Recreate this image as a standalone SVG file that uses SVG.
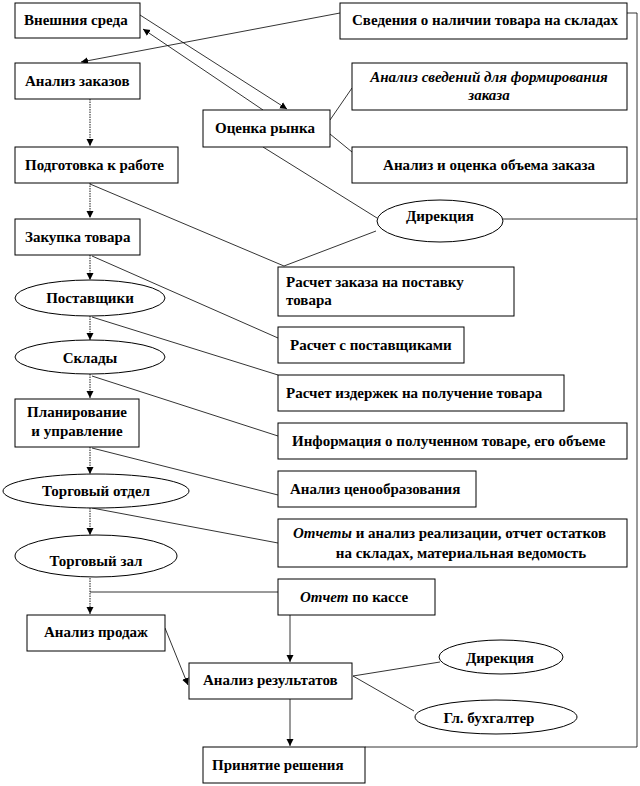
<svg xmlns="http://www.w3.org/2000/svg" width="640" height="786" viewBox="0 0 640 786" font-family="'Liberation Serif', 'Times New Roman', serif">
<defs>
<marker id="ah" markerWidth="8" markerHeight="8" refX="7" refY="4" orient="auto" markerUnits="userSpaceOnUse">
<path d="M0,0.5 L7,4 L0,7.5 Z" fill="#000"/>
</marker>
</defs>
<style>
.b{fill:#fff;stroke:#000;stroke-width:1}
.t{font-family:'Liberation Serif','Times New Roman',serif;font-weight:bold;font-size:15px;fill:#000}
.c{text-anchor:middle}
.i{font-style:italic}
.l{fill:none;stroke:#000;stroke-width:0.8}
.d{fill:none;stroke:#000;stroke-width:0.9;stroke-dasharray:1.5 1}
.a{marker-end:url(#ah)}
</style>
<rect width="640" height="786" fill="#fff"/>
<g id="connectors">
<line class="d a" x1="90" y1="99" x2="90" y2="146"/>
<line class="d a" x1="90" y1="183" x2="90" y2="218"/>
<line class="d a" x1="90" y1="255" x2="90" y2="280"/>
<line class="d a" x1="90" y1="316" x2="90" y2="340"/>
<line class="d a" x1="90" y1="374" x2="90" y2="398"/>
<line class="d a" x1="90" y1="447" x2="90" y2="474"/>
<line class="d a" x1="90" y1="508" x2="90" y2="535"/>
<line class="d a" x1="90" y1="578" x2="90" y2="614"/>
<line class="l" x1="90" y1="592" x2="278" y2="592"/>
<line class="l a" x1="290" y1="615" x2="290" y2="662"/>
<line class="l a" x1="290" y1="699" x2="290" y2="746"/>
<line class="l a" x1="165" y1="628" x2="188" y2="685"/>
<line class="l" x1="353" y1="676" x2="440" y2="662"/>
<line class="l" x1="353" y1="676" x2="414" y2="711"/>
<line class="l a" x1="140" y1="15" x2="287" y2="109"/>
<line class="l a" x1="263" y1="110" x2="143" y2="29"/>
<line class="l a" x1="340" y1="13" x2="81" y2="62"/>
<line class="l" x1="330" y1="120" x2="352" y2="88"/>
<line class="l" x1="330" y1="134" x2="352" y2="152"/>
<line class="l" x1="263" y1="147" x2="377" y2="218"/>
<line class="l" x1="90" y1="184" x2="284" y2="266"/>
<line class="l" x1="284" y1="266" x2="376" y2="231"/>
<line class="l" x1="92" y1="256" x2="278" y2="338"/>
<line class="l" x1="92" y1="317" x2="278" y2="375"/>
<line class="l" x1="92" y1="376" x2="278" y2="436"/>
<line class="l" x1="92" y1="448" x2="278" y2="495"/>
<line class="l" x1="92" y1="508" x2="278" y2="543"/>
<polyline class="l" points="627,13 637,13 637,747 365,747"/>
<line class="l" x1="503" y1="219" x2="637" y2="219"/>
</g>
<g id="vneshnyaya"><rect class="b" x="15" y="3" width="125" height="35"/><text class="t" x="24" y="25">Внешния среда</text></g>
<g id="analiz-zakazov"><rect class="b" x="15" y="63" width="125" height="36"/><text class="t" x="25" y="86">Анализ заказов</text></g>
<g id="podgotovka"><rect class="b" x="15" y="147" width="163" height="36"/><text class="t" x="25" y="170">Подготовка к работе</text></g>
<g id="ocenka"><rect class="b" x="203" y="110" width="127" height="37"/><text class="t" x="215" y="133">Оценка рынка</text></g>
<g id="svedeniya"><rect class="b" x="340" y="3" width="287" height="36"/><text class="t" x="352" y="25">Сведения о наличии товара на складах</text></g>
<g id="analiz-svedeniy"><rect class="b" x="352" y="63" width="275" height="47"/><text class="t c i" x="489" y="82">Анализ сведений для формирования</text><text class="t c i" x="489" y="100">заказа</text></g>
<g id="analiz-obema"><rect class="b" x="352" y="147" width="275" height="36"/><text class="t c" x="489" y="170">Анализ и оценка объема заказа</text></g>
<g id="direkciya1"><ellipse class="b" cx="440" cy="221" rx="63" ry="21"/><text class="t c" x="440" y="221">Дирекция</text></g>
<g id="zakupka"><rect class="b" x="15" y="219" width="125" height="36"/><text class="t" x="25" y="242">Закупка товара</text></g>
<g id="postavshiki"><ellipse class="b" cx="90" cy="298" rx="75" ry="18"/><text class="t c" x="90" y="303">Поставщики</text></g>
<g id="sklady"><ellipse class="b" cx="90" cy="357" rx="75" ry="17"/><text class="t c" x="90" y="363">Склады</text></g>
<g id="raschet-zakaza"><rect class="b" x="278" y="267" width="236" height="49"/><text class="t" x="286" y="287">Расчет заказа  на поставку</text><text class="t" x="286" y="305">товара</text></g>
<g id="raschet-postav"><rect class="b" x="278" y="327" width="186" height="36"/><text class="t" x="290" y="350">Расчет с поставщиками</text></g>
<g id="raschet-izderzhek"><rect class="b" x="278" y="375" width="286" height="36"/><text class="t" x="286" y="398">Расчет издержек на получение товара</text></g>
<g id="planirovanie"><rect class="b" x="15" y="399" width="124" height="48"/><text class="t c" x="77" y="417">Планирование</text><text class="t c" x="77" y="436">и управление</text></g>
<g id="informaciya"><rect class="b" x="278" y="423" width="349" height="36"/><text class="t" x="292" y="446">Информация  о полученном товаре, его объеме</text></g>
<g id="cenoobrazovanie"><rect class="b" x="278" y="471" width="198" height="36"/><text class="t" x="290" y="494">Анализ ценообразования</text></g>
<g id="torg-otdel"><ellipse class="b" cx="96" cy="491" rx="93" ry="17"/><text class="t c" x="96" y="496">Торговый отдел</text></g>
<g id="otchety"><rect class="b" x="278" y="519" width="349" height="48"/><text class="t" x="293" y="538"><tspan class="i">Отчеты</tspan> и анализ реализации, отчет остатков</text><text class="t c" x="461" y="558">на складах,  материальная ведомость</text></g>
<g id="torg-zal"><ellipse class="b" cx="96" cy="556" rx="81" ry="21"/><text class="t c" x="96" y="566">Торговый зал</text></g>
<g id="otchet-kassa"><rect class="b" x="278" y="579" width="157" height="36"/><text class="t" x="300" y="602"><tspan class="i">Отчет</tspan> по кассе</text></g>
<g id="analiz-prodazh"><rect class="b" x="27" y="615" width="138" height="36"/><text class="t c" x="96" y="637">Анализ продаж</text></g>
<g id="analiz-rezult"><rect class="b" x="189" y="663" width="163" height="36"/><text class="t" x="203" y="685">Анализ результатов</text></g>
<g id="direkciya2"><ellipse class="b" cx="501" cy="657" rx="62" ry="17"/><text class="t c" x="500" y="663">Дирекция</text></g>
<g id="glbuh"><ellipse class="b" cx="496" cy="717" rx="81" ry="17"/><text class="t c" x="489" y="723">Гл. бухгалтер</text></g>
<g id="prinyatie"><rect class="b" x="203" y="747" width="162" height="36"/><text class="t" x="212" y="770">Принятие  решения</text></g>
</svg>
